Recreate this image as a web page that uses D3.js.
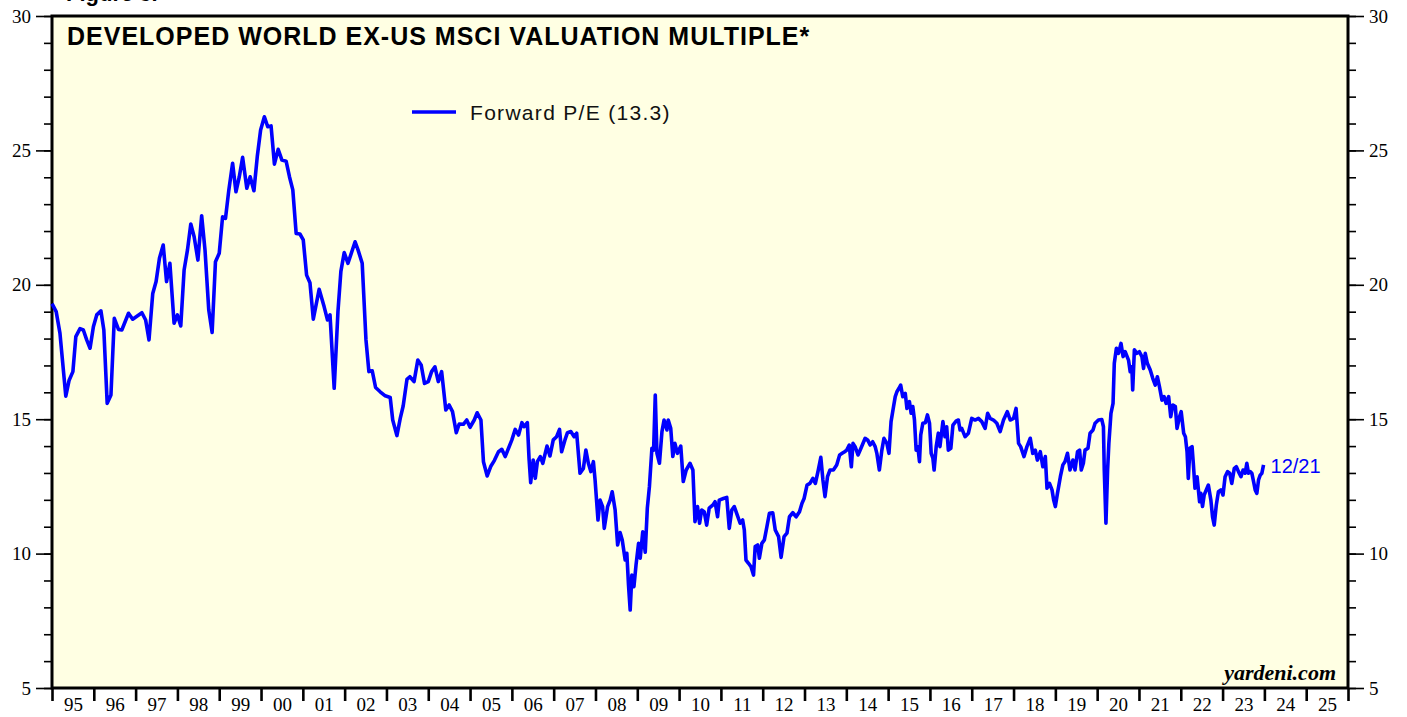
<!DOCTYPE html>
<html>
<head>
	<meta charset="utf-8">
	<title>Developed World ex-US MSCI Valuation Multiple</title>
</head>

<style>
	body { margin:0; background:#fff; }
	.tick text { font-family:"Liberation Serif", "Times New Roman", serif; font-size:19px; fill:#000; }
	.tick line { stroke:#000; }
</style>

<body>
<script src="https://cdnjs.cloudflare.com/ajax/libs/d3/7.8.5/d3.min.js" charset="utf-8"></script>
<svg width="1407" height="717"></svg>
<script>

	var title = "DEVELOPED WORLD EX-US MSCI VALUATION MULTIPLE*";
	var legendLabel = "Forward P/E (13.3)";
	var lastLabel = "12/21";
	var yMajor = [5, 10, 15, 20, 25, 30];
	var yearTicks = d3.range(1995, 2027);

	// weekly-ish readings, decimal year
	var dates = [
		1995.00,1995.10,1995.19,1995.33,1995.41,1995.50,1995.57,1995.67,1995.75,1995.83,1995.91,1995.99,
		1996.07,1996.17,1996.24,1996.32,1996.41,1996.49,1996.59,1996.67,1996.83,1996.93,
		1997.15,1997.24,1997.32,1997.41,1997.49,1997.57,1997.66,1997.74,1997.82,1997.92,
		1998.00,1998.08,1998.16,1998.24,1998.32,1998.40,1998.49,1998.58,1998.66,1998.75,1998.83,1998.91,
		1999.00,1999.08,1999.15,1999.23,1999.32,1999.40,1999.48,1999.56,1999.66,1999.74,1999.83,1999.91,1999.99,
		2000.08,2000.16,2000.24,2000.32,2000.41,2000.50,2000.60,2000.68,2000.76,2000.84,2000.93,
		2001.01,2001.09,2001.17,2001.25,2001.39,2001.51,2001.59,2001.65,2001.75,2001.84,2001.91,2001.99,
		2002.08,2002.25,2002.32,2002.42,2002.51,2002.58,2002.66,2002.74,2002.85,2002.97,
		2003.09,2003.15,2003.25,2003.33,2003.40,2003.49,2003.56,2003.66,2003.75,2003.83,2003.91,
		2004.00,2004.08,2004.16,2004.24,2004.32,2004.42,2004.50,2004.58,2004.67,2004.74,2004.84,2004.92,
		2005.00,2005.10,2005.17,2005.26,2005.32,2005.41,2005.50,2005.58,2005.68,2005.76,2005.84,2005.92,
		2006.00,2006.08,2006.16,2006.24,2006.29,2006.37,2006.41,2006.45,2006.51,2006.56,2006.61,2006.68,2006.74,2006.84,2006.91,2006.99,
		2007.07,2007.14,2007.19,2007.27,2007.33,2007.41,2007.49,2007.55,2007.63,2007.71,2007.77,2007.83,2007.89,2007.95,2007.99,
		2008.06,2008.11,2008.17,2008.21,2008.29,2008.35,2008.40,2008.47,2008.53,2008.59,2008.64,2008.71,2008.75,2008.79,2008.83,2008.87,2008.92,2008.97,
		2009.03,2009.07,2009.13,2009.19,2009.24,2009.29,2009.35,2009.39,2009.43,2009.47,2009.53,2009.59,2009.64,2009.71,2009.74,2009.80,2009.85,2009.90,2009.96,
		2010.04,2010.10,2010.17,2010.26,2010.33,2010.38,2010.44,2010.49,2010.54,2010.60,2010.66,2010.72,2010.81,2010.86,2010.92,2010.96,
		2011.06,2011.14,2011.20,2011.26,2011.32,2011.39,2011.46,2011.52,2011.56,2011.60,2011.66,2011.72,2011.78,2011.82,2011.88,2011.92,2011.98,
		2012.04,2012.10,2012.16,2012.24,2012.30,2012.38,2012.44,2012.51,2012.58,2012.64,2012.72,2012.80,2012.88,2012.94,2012.99,
		2013.06,2013.13,2013.20,2013.26,2013.33,2013.39,2013.44,2013.49,2013.55,2013.61,2013.69,2013.77,2013.84,2013.90,2013.96,
		2014.01,2014.07,2014.12,2014.16,2014.21,2014.28,2014.35,2014.45,2014.51,2014.57,2014.63,2014.69,2014.73,2014.79,2014.85,2014.90,2014.97,
		2015.02,2015.07,2015.13,2015.17,2015.21,2015.26,2015.30,2015.35,2015.41,2015.45,2015.51,2015.55,2015.59,2015.63,2015.67,2015.71,2015.75,2015.78,2015.83,2015.89,2015.94,2015.99,
		2016.03,2016.07,2016.10,2016.15,2016.20,2016.24,2016.31,2016.36,2016.40,2016.44,2016.50,2016.55,2016.63,2016.68,2016.72,2016.76,2016.84,2016.92,
		2017.00,2017.08,2017.16,2017.24,2017.32,2017.38,2017.44,2017.52,2017.60,2017.68,2017.76,2017.85,2017.92,
		2018.00,2018.06,2018.12,2018.17,2018.25,2018.32,2018.40,2018.46,2018.52,2018.57,2018.64,2018.70,2018.76,2018.80,2018.86,2018.92,2018.96,
		2019.00,2019.05,2019.12,2019.18,2019.23,2019.29,2019.35,2019.42,2019.47,2019.53,2019.58,2019.62,2019.67,2019.71,2019.78,2019.83,2019.90,2019.95,
		2020.03,2020.11,2020.15,2020.17,2020.21,2020.25,2020.28,2020.33,2020.38,2020.41,2020.46,2020.51,2020.57,2020.62,2020.67,2020.75,2020.79,2020.83,2020.85,2020.89,2020.95,
		2021.01,2021.07,2021.11,2021.15,2021.20,2021.27,2021.33,2021.39,2021.44,2021.49,2021.55,2021.60,2021.65,2021.71,2021.76,2021.81,2021.87,2021.91,2021.97,
		2022.01,2022.07,2022.11,2022.15,2022.18,2022.22,2022.27,2022.30,2022.34,2022.39,2022.45,2022.48,2022.52,2022.56,2022.61,2022.66,2022.72,2022.76,2022.80,2022.85,2022.90,2022.96,
		2023.01,2023.06,2023.12,2023.17,2023.22,2023.28,2023.33,2023.38,2023.44,2023.49,2023.54,2023.58,2023.62,2023.66,2023.70,2023.75,2023.78,2023.82,2023.86,2023.90,2023.94,2023.98
	];

	var forwardPE = [
		19.30,19.00,18.20,15.86,16.45,16.77,18.07,18.37,18.32,17.95,17.64,18.44,
		18.88,19.03,18.32,15.59,15.90,18.75,18.34,18.32,18.94,18.72,
		18.96,18.69,17.95,19.68,20.12,20.99,21.48,20.12,20.80,18.57,
		18.88,18.47,20.55,21.29,22.26,21.79,20.92,22.57,21.29,19.06,18.23,20.86,
		21.17,22.53,22.47,23.53,24.52,23.46,24.02,24.74,23.59,24.02,23.50,24.77,25.76,
		26.25,25.88,25.91,24.49,25.04,24.64,24.60,24.02,23.53,21.91,21.89,
		21.67,20.36,20.08,18.72,19.83,19.18,18.69,18.88,16.15,19.00,20.50,21.20,
		20.80,21.60,21.30,20.80,17.95,16.77,16.80,16.18,16.02,15.87,
		15.81,14.97,14.39,15.03,15.49,16.48,16.58,16.40,17.20,17.02,16.33,
		16.40,16.77,16.95,16.40,16.77,15.34,15.53,15.28,14.50,14.82,14.81,14.97,
		14.70,14.97,15.24,14.97,13.42,12.89,13.26,13.46,13.79,13.88,13.61,13.92,
		14.23,14.62,14.41,14.87,14.72,14.87,13.55,12.64,13.48,12.80,13.42,13.61,13.36,14.00,13.63,14.23,
		14.35,14.62,13.79,14.23,14.50,14.54,14.35,14.48,12.99,13.17,13.85,13.36,13.05,13.42,12.74,
		11.25,11.99,11.75,10.94,11.75,11.99,12.30,11.62,10.32,10.78,10.51,9.76,10.01,8.83,7.90,9.20,8.77,9.58,
		10.38,9.83,10.81,10.05,11.69,12.49,13.92,13.85,15.90,13.73,13.36,14.54,14.97,14.60,14.97,14.66,13.61,14.10,13.73,
		14.00,12.68,13.11,13.36,13.11,11.19,11.75,11.13,11.62,11.56,11.06,11.69,11.81,11.93,11.37,11.99,
		12.05,12.09,10.94,11.62,11.75,11.44,11.13,11.25,10.88,9.76,9.64,9.51,9.20,10.26,10.32,9.83,10.38,
		10.51,11.00,11.50,11.52,10.88,10.63,9.86,10.63,10.76,11.37,11.52,11.37,11.56,11.87,12.05,
		12.55,12.61,12.80,12.61,13.11,13.58,12.74,12.12,12.86,13.11,13.11,13.30,13.67,13.73,13.79,
		13.85,14.04,13.23,14.10,13.98,13.67,13.92,14.29,14.23,14.04,14.16,13.98,13.73,13.11,13.85,14.29,14.10,
		13.73,14.91,15.47,15.84,16.02,16.15,16.27,15.84,15.96,15.40,15.65,15.22,15.47,14.97,13.85,13.98,13.42,14.41,14.85,14.87,15.16,14.85,
		13.73,13.55,13.11,13.98,14.48,13.98,14.91,14.35,14.72,13.85,13.92,14.78,14.94,14.97,14.60,14.66,14.35,14.48,
		15.03,14.97,15.03,14.91,14.66,15.22,15.03,14.97,14.85,14.54,14.97,15.28,14.97,
		15.03,15.40,14.10,13.98,13.61,13.98,14.29,13.73,13.85,13.48,13.79,13.23,13.61,12.43,12.61,12.37,11.99,
		11.75,12.24,12.86,13.30,13.42,13.73,13.11,13.48,13.11,13.79,13.85,13.11,13.36,13.85,13.92,14.48,14.60,14.85,
		14.97,14.99,14.72,13.11,11.13,13.11,14.10,15.22,15.59,17.08,17.64,17.45,17.82,17.33,17.51,17.20,16.77,16.95,16.09,17.58,17.45,
		17.51,17.33,16.89,17.45,17.08,16.83,16.52,16.27,16.58,16.21,15.71,15.84,15.59,15.84,15.09,15.53,15.47,14.66,15.09,
		15.28,14.48,14.35,13.79,12.80,13.92,13.98,13.36,12.43,12.86,11.93,12.24,11.75,12.18,12.37,12.55,11.99,11.37,11.06,11.81,12.30,12.37,
		12.18,12.86,13.05,12.99,12.61,13.17,13.23,13.05,12.86,13.11,12.99,13.36,12.99,13.05,12.99,12.61,12.37,12.24,12.74,12.92,12.99,13.30
	];

	var svg = d3.select("svg");
	var margin = {top:16,left:52,bottom:29,right:59};
	var width = +svg.attr("width")-margin.left-margin.right;
	var height = +svg.attr("height")-margin.top-margin.bottom;

	var x = d3.scaleLinear()
			  .domain([1995, 2026])
			  .range([0, width]);

	var y = d3.scaleLinear()
			  .domain([5, 30])
			  .range([height, 0]);

	var g = svg.append("g")
			   .attr("transform","translate("+ margin.left +","+ margin.top +")");

	g.append("rect")
	 .attr("width", width)
	 .attr("height", height)
	 .attr("fill", "#ffffe3");

	// figure caption, mostly cut off at the top edge
	svg.append("text")
	   .attr("x", 66).attr("y", 1)
	   .attr("font-family", "'Liberation Sans', Arial, sans-serif")
	   .attr("font-weight", "bold")
	   .attr("font-size", 22)
	   .text("Figure 3.");

	// y axes: minor ticks every point, major every 5
	function yAxis(axis, major) {
		return axis(y).tickValues(major ? yMajor : d3.range(5, 31))
				  .tickSize(major ? 16 : 8)
				  .tickPadding(5)
				  .tickFormat(major ? d3.format("d") : "");
	}

	g.append("g").call(yAxis(d3.axisLeft, false));
	g.append("g").call(yAxis(d3.axisLeft, true));
	g.append("g").attr("transform","translate("+ width +",0)").call(yAxis(d3.axisRight, false));
	g.append("g").attr("transform","translate("+ width +",0)").call(yAxis(d3.axisRight, true));

	g.selectAll(".tick line").attr("stroke-width", 1.6);

	// x axis: ticks at year boundaries, labels centred within each year
	var xTicks = g.append("g")
				  .attr("transform","translate(0,"+ height +")")
				  .call(d3.axisBottom(x).tickValues(yearTicks).tickSize(13).tickFormat(""));
	xTicks.selectAll(".tick line").attr("stroke-width", 2.6);

	g.append("g")
	 .attr("transform","translate(0,"+ height +")")
	 .call(d3.axisBottom(x)
			 .tickValues(yearTicks.slice(0, -1).map(function(d){ return d + 0.5; }))
			 .tickSize(0)
			 .tickPadding(10)
			 .tickFormat(function(d){ return d3.format("02d")(Math.floor(d) % 100); }));

	g.selectAll(".domain").remove();

	g.append("rect")
	 .attr("width", width)
	 .attr("height", height)
	 .attr("fill", "none")
	 .attr("stroke", "#000")
	 .attr("stroke-width", 3);

	var line = d3.line()
				 .x(function(d){ return x(d[0]); })
				 .y(function(d){ return y(d[1]); });

	var series = dates.map(function(d, i){ return [d, forwardPE[i]]; });

	g.append("path")
	 .datum(series)
	 .attr("fill", "none")
	 .attr("stroke", "#0000ff")
	 .attr("stroke-width", 3.6)
	 .attr("stroke-linejoin", "round")
	 .attr("d", line);

	g.append("text")
	 .attr("x", 15).attr("y", 29)
	 .attr("font-family", "'Liberation Sans', Arial, sans-serif")
	 .attr("font-weight", "bold")
	 .attr("font-size", 25)
	 .attr("letter-spacing", 1.0)
	 .text(title);

	// legend
	g.append("line")
	 .attr("x1", 360).attr("x2", 404)
	 .attr("y1", 96).attr("y2", 96)
	 .attr("stroke", "#0000ff")
	 .attr("stroke-width", 3.6);

	g.append("text")
	 .attr("x", 418).attr("y", 104)
	 .attr("font-family", "'Liberation Sans', Arial, sans-serif")
	 .attr("font-size", 21)
	 .attr("letter-spacing", 1.3)
	 .attr("fill", "#111")
	 .text(legendLabel);

	var last = series[series.length - 1];
	g.append("text")
	 .attr("x", x(last[0]) + 7)
	 .attr("y", y(last[1]) + 8)
	 .attr("font-family", "'Liberation Sans', Arial, sans-serif")
	 .attr("font-size", 20)
	 .attr("fill", "#0000ff")
	 .text(lastLabel);

	g.append("text")
	 .attr("x", width - 12).attr("y", height - 8)
	 .attr("text-anchor", "end")
	 .attr("font-family", "'Liberation Serif', 'Times New Roman', serif")
	 .attr("font-weight", "bold")
	 .attr("font-style", "italic")
	 .attr("font-size", 22)
	 .text("yardeni.com");

</script>
</body>
</html>
